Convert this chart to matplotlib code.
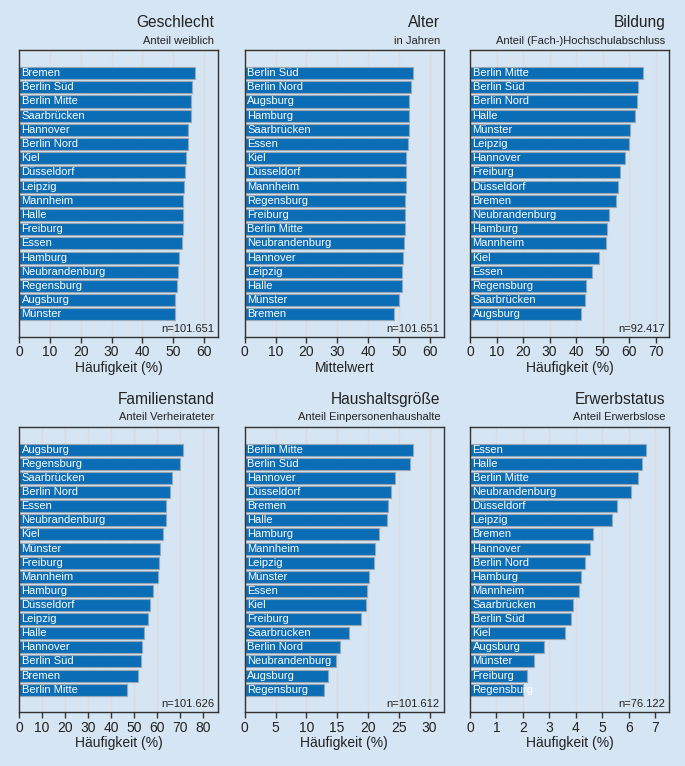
import matplotlib
matplotlib.use('Agg')
from matplotlib import pyplot as plt
from matplotlib import transforms
import numpy as np

plt.rcParams['font.family'] = ['Liberation Sans', 'DejaVu Sans']

BG = '#d5e5f3'
BAR = '#0b6db6'
EDGE = '#98a6b4'
FRAME = '#333333'

# Geschlecht - Anteil weiblich
sex_cities = ['Bremen', 'Berlin Süd', 'Berlin Mitte', 'Saarbrücken', 'Hannover',
              'Berlin Nord', 'Kiel', 'Düsseldorf', 'Leipzig', 'Mannheim', 'Halle',
              'Freiburg', 'Essen', 'Hamburg', 'Neubrandenburg', 'Regensburg',
              'Augsburg', 'Münster']
sex_values = [57.2, 56.2, 55.9, 55.9, 54.9, 54.8, 54.2, 53.7, 53.6, 53.3, 53.1,
              53.0, 52.9, 51.9, 51.5, 51.2, 50.7, 50.6]

# Alter - in Jahren
age_cities = ['Berlin Süd', 'Berlin Nord', 'Augsburg', 'Hamburg', 'Saarbrücken',
              'Essen', 'Kiel', 'Düsseldorf', 'Mannheim', 'Regensburg', 'Freiburg',
              'Berlin Mitte', 'Neubrandenburg', 'Hannover', 'Leipzig', 'Halle',
              'Münster', 'Bremen']
age_values = [54.7, 53.9, 53.4, 53.2, 53.1, 52.9, 52.4, 52.3, 52.3, 52.0, 52.0,
              51.8, 51.5, 51.2, 51.0, 50.9, 49.9, 48.3]

# Bildung - Anteil (Fach-)Hochschulabschluss
edu_cities = ['Berlin Mitte', 'Berlin Süd', 'Berlin Nord', 'Halle', 'Münster',
              'Leipzig', 'Hannover', 'Freiburg', 'Düsseldorf', 'Bremen',
              'Neubrandenburg', 'Hamburg', 'Mannheim', 'Kiel', 'Essen',
              'Regensburg', 'Saarbrücken', 'Augsburg']
edu_values = [65.1, 63.3, 63.0, 62.2, 60.3, 59.8, 58.6, 56.4, 55.7, 54.9, 52.4,
              51.6, 51.3, 48.6, 46.1, 43.8, 43.2, 41.8]

# Familienstand - Anteil Verheirateter
mar_cities = ['Augsburg', 'Regensburg', 'Saarbrücken', 'Berlin Nord', 'Essen',
              'Neubrandenburg', 'Kiel', 'Münster', 'Freiburg', 'Mannheim',
              'Hamburg', 'Düsseldorf', 'Leipzig', 'Halle', 'Hannover',
              'Berlin Süd', 'Bremen', 'Berlin Mitte']
mar_values = [71.4, 70.1, 66.5, 65.6, 64.0, 64.0, 62.7, 61.3, 60.8, 60.5, 58.2,
              56.9, 56.2, 54.2, 53.6, 53.0, 51.7, 47.1]

# Haushaltsgröße - Anteil Einpersonenhaushalte
hh_cities = ['Berlin Mitte', 'Berlin Süd', 'Hannover', 'Düsseldorf', 'Bremen',
             'Halle', 'Hamburg', 'Mannheim', 'Leipzig', 'Münster', 'Essen', 'Kiel',
             'Freiburg', 'Saarbrücken', 'Berlin Nord', 'Neubrandenburg',
             'Augsburg', 'Regensburg']
hh_values = [27.3, 26.8, 24.4, 23.8, 23.2, 23.1, 21.8, 21.1, 21.0, 20.1, 19.8,
             19.7, 18.9, 17.0, 15.5, 14.9, 13.5, 12.8]

# Erwerbstatus - Anteil Erwerbslose
job_cities = ['Essen', 'Halle', 'Berlin Mitte', 'Neubrandenburg', 'Düsseldorf',
              'Leipzig', 'Bremen', 'Hannover', 'Berlin Nord', 'Hamburg',
              'Mannheim', 'Saarbrücken', 'Berlin Süd', 'Kiel', 'Augsburg',
              'Münster', 'Freiburg', 'Regensburg']
job_values = [6.66, 6.49, 6.34, 6.10, 5.57, 5.35, 4.63, 4.55, 4.36, 4.21, 4.12,
              3.90, 3.83, 3.59, 2.80, 2.42, 2.14, 2.02]

panels = [
    ('Geschlecht', 'Anteil weiblich', sex_cities, sex_values, 'n=101.651',
     'Häufigkeit (%)', np.arange(0, 61, 10), 64.5),
    ('Alter', 'in Jahren', age_cities, age_values, 'n=101.651',
     'Mittelwert', np.arange(0, 61, 10), 64.5),
    ('Bildung', 'Anteil (Fach-)Hochschulabschluss', edu_cities, edu_values,
     'n=92.417', 'Häufigkeit (%)', np.arange(0, 71, 10), 75.0),
    ('Familienstand', 'Anteil Verheirateter', mar_cities, mar_values,
     'n=101.626', 'Häufigkeit (%)', np.arange(0, 81, 10), 86.4),
    ('Haushaltsgröße', 'Anteil Einpersonenhaushalte', hh_cities, hh_values,
     'n=101.612', 'Häufigkeit (%)', np.arange(0, 31, 5), 32.3),
    ('Erwerbstatus', 'Anteil Erwerbslose', job_cities, job_values, 'n=76.122',
     'Häufigkeit (%)', np.arange(0, 8, 1), 7.52),
]

W, H = 685, 766
fig = plt.figure(figsize=(W / 100, H / 100), dpi=100, facecolor=BG)

lefts = [19, 244.7, 470]
width = 199
rows = [(50, 337), (426.7, 712.3)]

for i, (title, sub, cities, values, ntext, xlabel, ticks, xmax) in enumerate(panels):
    top, bottom = rows[i // 3]
    left = lefts[i % 3]
    ax = fig.add_axes([left / W, 1 - bottom / H, width / W, (bottom - top) / H])
    ax.set_facecolor(BG)

    n = len(cities)
    ypos = np.arange(n)[::-1]
    ax.barh(ypos, values, height=0.85, color=BAR, edgecolor=EDGE,
            linewidth=0.8, zorder=2)
    tr = transforms.offset_copy(ax.transData, fig=fig, x=2.5, y=0, units='dots')
    for y, c in zip(ypos, cities):
        ax.text(0, y, c, transform=tr, color='white', fontsize=8,
                ha='left', va='center', zorder=3)

    ax.set_xlim(0, xmax)
    ax.set_ylim(-1.6, n - 1 + 1.63)
    ax.set_xticks(ticks)
    ax.set_yticks([])
    ax.xaxis.grid(True, color='#dcdcdc', linewidth=1.0, zorder=0)
    ax.set_axisbelow(True)
    ax.tick_params(axis='x', length=4, width=1, color=FRAME, pad=2,
                   labelsize=10, labelcolor='#222222')
    for s in ax.spines.values():
        s.set_color(FRAME)
        s.set_linewidth(1.0)
    ax.set_xlabel(xlabel, fontsize=10, labelpad=1, color='#222222')

    tt = transforms.offset_copy(ax.transAxes, fig=fig, x=-3.5, y=23, units='dots')
    ax.text(1, 1, title, transform=tt, ha='right', va='baseline',
            fontsize=11.2, color='#222222')
    ts = transforms.offset_copy(ax.transAxes, fig=fig, x=-3.5, y=6.5, units='dots')
    ax.text(1, 1, sub, transform=ts, ha='right', va='baseline',
            fontsize=8, color='#222222')
    tn = transforms.offset_copy(ax.transAxes, fig=fig, x=-4, y=5, units='dots')
    ax.text(1, 0, ntext, transform=tn, ha='right', va='baseline',
            fontsize=8, color='#222222')

fig.savefig('out.png', dpi=100, facecolor=BG)
